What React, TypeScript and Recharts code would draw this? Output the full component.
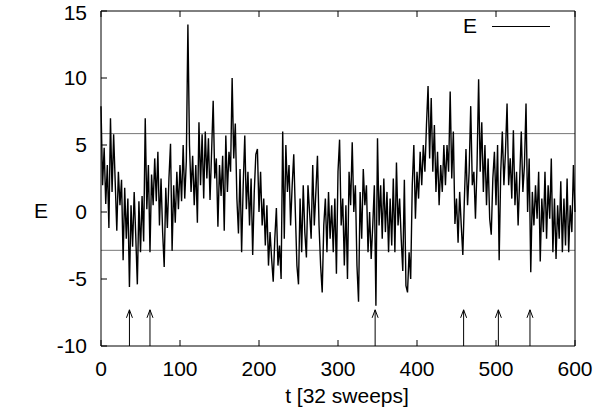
import { LineChart, Line, XAxis, YAxis, ReferenceLine } from "recharts";

// E sampled every 2 time units (t in units of 32 sweeps)
const T_STEP = 2;
const energy = [
  7.9, 2.0, 4.8, 0.6, 3.5, -1.2, 7.0, 1.5, 5.8, 2.2,
  -1.4, 3.0, 0.5, 2.4, -3.6, 1.8, -2.0, 1.0, -5.6, 0.5,
  -2.6, 1.5, -1.8, -5.4, 0.8, -3.0, 1.2, -2.2, 7.0, 0.2,
  3.5, -3.0, 2.8, 0.5, 4.0, 0.8, 4.5, -1.0, 2.5, -1.5,
  -4.1, 1.8, -1.2, 2.5, 5.1, -2.9, 2.0, -0.8, 3.0, 0.2,
  3.5, 0.8, 5.0, 1.0, 3.8, 14.0, 5.0, 1.5, 4.2, 0.5,
  3.5, -0.8, 6.7, 2.0, 5.8, 1.0, 6.0, 2.5, 5.5, 0.9,
  4.5, 8.3, 2.5, 4.0, -1.1, 3.5, 1.2, 4.2, -1.4, 5.7,
  1.5, 4.5, 3.0, 10.0, 4.0, 6.6, 1.0, -1.6, 3.2, -3.0,
  2.0, 5.7, 0.2, 3.0, -1.0, 2.5, -3.2, 1.5, 4.3, 4.7,
  0.0, 3.0, -1.0, 1.0, -2.5, 0.5, -4.0, -1.5, -3.5, -5.2,
  -2.0, 0.3, -4.0, -2.5, -5.0, 6.0, -2.0, 5.0, 1.5, 3.5,
  -1.0, 2.0, 4.3, 0.0, -4.0, -5.4, 1.0, -3.0, 2.0, -1.5,
  -3.4, 2.0, 0.0, -2.0, 3.5, -1.0, 1.5, 4.2, -1.0, -4.0,
  -6.0, -1.0, 1.0, -3.0, 1.5, -2.0, 0.5, -3.0, 1.0, -4.6,
  3.0, 5.4, -1.0, 1.0, -4.0, 0.5, -5.0, 3.0, 0.5, 5.2,
  0.0, 2.0, -4.0, -6.7, 1.5, -2.0, 3.2, 0.5, 2.0, -3.0,
  0.0, -3.5, -1.0, 2.0, -7.0, 5.5, -1.0, 2.0, -2.0, 2.5,
  -1.5, 1.5, -3.0, 1.0, -2.5, 2.5, -3.0, 3.7, -1.0, 1.0,
  -2.0, -4.4, 2.4, -5.5, -6.0, -3.0, -5.0, 2.0, 5.0, -0.5,
  3.0, 1.0, 4.5, 2.0, 5.0, 3.0, 6.5, 9.4, 4.0, 8.5,
  3.0, 6.5, 1.5, 4.5, 0.5, 3.5, 1.5, 5.0, 2.0, 5.0,
  3.0, 9.0, 2.5, 6.0, -0.9, 1.0, -2.3, 1.5, -1.0, -3.2,
  1.0, 4.7, 0.5, 3.0, 7.9, 2.0, 3.0, -0.5, 3.5, 9.9,
  3.0, 6.7, 1.5, 5.0, 0.5, 4.0, -0.5, -1.7, 2.5, 4.5,
  0.5, 5.0, -3.6, 3.0, 6.0, 2.0, 4.5, 8.1, 2.0, 4.0,
  1.0, 6.1, 0.5, 3.0, -1.0, 2.5, 6.0, 1.5, 3.5, 8.1,
  0.0, 4.0, -4.5, 1.5, -1.0, 2.0, -0.5, 3.0, -3.7, 1.0,
  -1.5, 3.0, -2.0, 2.0, -0.5, 4.0, -3.0, 1.0, -3.5, 0.5,
  -2.0, 2.3, -3.0, 1.0, -2.5, 2.5, -3.0, 0.5, -1.5, 3.5,
  0.0,
];

const xTicks = [0, 100, 200, 300, 400, 500, 600];
const yTicks = [-10, -5, 0, 5, 10, 15];
const levels = [5.85, -2.86];
const arrowTimes = [36, 62, 347, 459, 503, 543];
const arrowTip = -7.3;

const data = energy.map((E, i) => ({ t: i * T_STEP, E }));

const FONT = "'Liberation Sans', Arial, Helvetica, sans-serif";

const Arrow = (props: any) => {
  const { x1, y1, x2, y2 } = props;
  return (
    <g>
      <line x1={x1} y1={y1} x2={x2} y2={y2} stroke="#000" strokeWidth={1} />
      <path
        d={`M${x2 - 3},${y2 + 8} L${x2},${y2} L${x2 + 3},${y2 + 8}`}
        fill="none"
        stroke="#000"
        strokeWidth={1}
      />
    </g>
  );
};

const NoTick = () => <g />;

export default function App() {
  return (
    <div style={{ position: "absolute", left: 0, top: 0, width: 611, height: 418, background: "#fff" }}>
      <LineChart
        width={611}
        height={418}
        data={data}
        margin={{ top: 0, right: 0, bottom: 0, left: 0 }}
        style={{ fontFamily: FONT }}
      >
        <XAxis
          dataKey="t"
          type="number"
          domain={[0, 600]}
          ticks={xTicks}
          tickSize={-6}
          tickMargin={21}
          height={72}
          stroke="#000"
          tick={{ fill: "#000", fontSize: 21 }}
          label={{ value: "t [32 sweeps]", position: "insideBottom", offset: 15, dx: 9, fill: "#000", fontSize: 21 }}
        />
        <XAxis
          xAxisId="top"
          orientation="top"
          dataKey="t"
          type="number"
          domain={[0, 600]}
          ticks={xTicks}
          tickSize={-6}
          height={11}
          stroke="#000"
          tick={NoTick}
        />
        <YAxis
          type="number"
          domain={[-10, 15]}
          ticks={yTicks}
          tickSize={-6}
          tickMargin={20}
          width={101}
          stroke="#000"
          allowDataOverflow
          tick={{ fill: "#000", fontSize: 21 }}
          label={{ value: "E", position: "insideLeft", offset: 34, dy: 32, fill: "#000", fontSize: 21 }}
        />
        <YAxis
          yAxisId="r"
          orientation="right"
          type="number"
          domain={[-10, 15]}
          ticks={yTicks}
          tickSize={-6}
          width={36}
          stroke="#000"
          tick={NoTick}
        />
        {levels.map((v) => (
          <ReferenceLine key={v} y={v} stroke="#777" strokeWidth={1} />
        ))}
        {arrowTimes.map((t) => (
          <ReferenceLine
            key={t}
            segment={[
              { x: t, y: -10 },
              { x: t, y: arrowTip },
            ]}
            shape={Arrow}
          />
        ))}
        <Line
          type="linear"
          dataKey="E"
          stroke="#000"
          strokeWidth={1.4}
          dot={false}
          isAnimationActive={false}
        />
      </LineChart>
      <div
        style={{
          position: "absolute",
          left: 463,
          top: 13,
          display: "flex",
          alignItems: "center",
          fontFamily: FONT,
          fontSize: 21,
          lineHeight: "26px",
        }}
      >
        <span>E</span>
        <span style={{ display: "inline-block", width: 58, borderTop: "1px solid #000", marginLeft: 15 }} />
      </div>
    </div>
  );
}
